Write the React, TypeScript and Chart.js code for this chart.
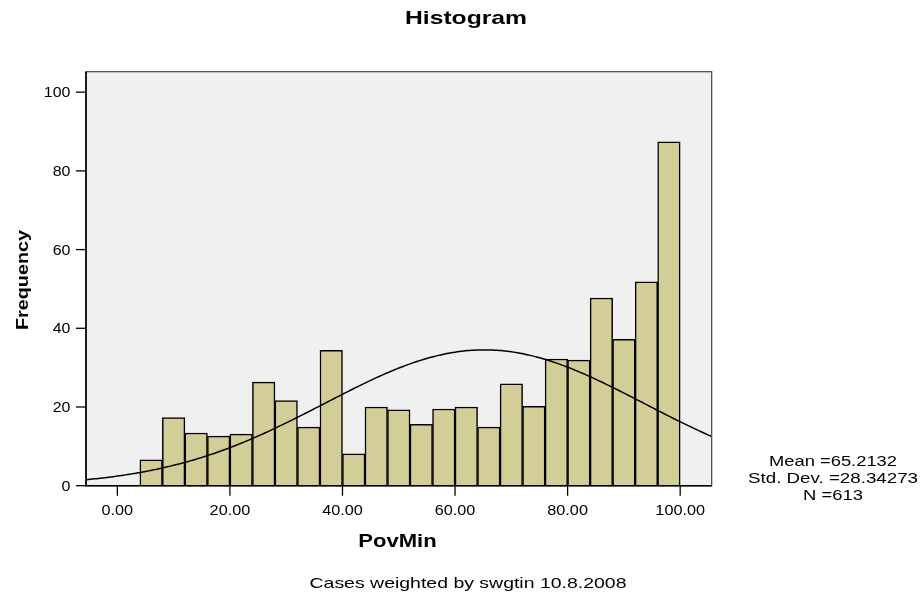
import { useEffect, useRef } from "react";
import { Chart, registerables } from "chart.js";

Chart.register(...registerables);

// Histogram bins (lower edges) and frequencies
const BIN_LOWER_EDGES = [4, 8, 12, 16, 20, 24, 28, 32, 36, 40, 44, 48, 52, 56, 60, 64, 68, 72, 76, 80, 84, 88, 92, 96];
const FREQUENCIES = [6.6, 17.3, 13.4, 12.6, 13.1, 26.3, 21.6, 14.9, 34.4, 8.1, 20.0, 19.3, 15.6, 19.5, 20.0, 14.9, 25.9, 20.2, 32.2, 31.9, 47.7, 37.2, 51.8, 87.4];
const BIN_WIDTH = 4;

const X_TICKS = [0, 20, 40, 60, 80, 100];
const Y_TICKS = [0, 20, 40, 60, 80, 100];
const X_MIN = -5.57;
const X_MAX = 105.6;
const Y_MAX = 105.2;

// Normal curve parameters stated on the chart
const MEAN = 65.2132;
const STD_DEV = 28.34273;
const N = 613;

const STATS_LINES = ["Mean =65.2132", "Std. Dev. =28.34273", "N =613"];
const TITLE = "Histogram";
const X_TITLE = "PovMin";
const Y_TITLE = "Frequency";
const FOOTNOTE = "Cases weighted by swgtin 10.8.2008";

const FONT = "'Liberation Sans', Arial, sans-serif";

function normalCurve() {
  const pts: { x: number; y: number }[] = [];
  const k = (N * BIN_WIDTH) / (STD_DEV * Math.sqrt(2 * Math.PI));
  const steps = 300;
  for (let i = 0; i <= steps; i++) {
    const x = X_MIN + ((X_MAX - X_MIN) * i) / steps;
    const z = (x - MEAN) / STD_DEV;
    pts.push({ x, y: k * Math.exp(-0.5 * z * z) });
  }
  return pts;
}

function drawText(
  ctx: CanvasRenderingContext2D,
  text: string,
  x: number,
  y: number,
  font: string,
  align: CanvasTextAlign,
  opts: { width?: number; scaleX?: number; rotate?: boolean }
) {
  ctx.save();
  ctx.translate(x, y);
  if (opts.rotate) ctx.rotate(-Math.PI / 2);
  ctx.font = font;
  const w = ctx.measureText(text).width;
  const sx = opts.width ? opts.width / w : opts.scaleX ?? 1;
  ctx.scale(sx, 1);
  ctx.textAlign = align;
  ctx.textBaseline = "alphabetic";
  ctx.fillStyle = "#000";
  ctx.fillText(text, 0, 0);
  ctx.restore();
}

const decorPlugin = {
  id: "spssDecor",
  beforeDraw(chart: any) {
    const { ctx, chartArea: a } = chart;
    ctx.save();
    ctx.fillStyle = "#ffffff";
    ctx.fillRect(0, 0, chart.width, chart.height);
    ctx.fillStyle = "#f0f0f0";
    ctx.fillRect(a.left, a.top, a.right - a.left, a.bottom - a.top);
    ctx.restore();
  },
  afterDraw(chart: any) {
    const { ctx, chartArea: a } = chart;
    const xs = chart.scales.x;
    const ys = chart.scales.y;
    ctx.save();
    // frame
    ctx.strokeStyle = "#444";
    ctx.lineWidth = 1.2;
    ctx.strokeRect(a.left, a.top, a.right - a.left, a.bottom - a.top);
    ctx.strokeStyle = "#000";
    ctx.lineWidth = 1.6;
    ctx.beginPath();
    ctx.moveTo(a.left, a.top);
    ctx.lineTo(a.left, a.bottom);
    ctx.lineTo(a.right, a.bottom);
    ctx.stroke();
    // x ticks
    ctx.lineWidth = 1.3;
    X_TICKS.forEach((v) => {
      const px = xs.getPixelForValue(v);
      ctx.beginPath();
      ctx.moveTo(px, a.bottom);
      ctx.lineTo(px, a.bottom + 10);
      ctx.stroke();
      drawText(ctx, v.toFixed(2), px, 515.3, `14px ${FONT}`, "center", { scaleX: 1.16 });
    });
    // y ticks
    Y_TICKS.forEach((v) => {
      const py = ys.getPixelForValue(v);
      ctx.beginPath();
      ctx.moveTo(a.left - 10, py);
      ctx.lineTo(a.left, py);
      ctx.stroke();
      drawText(ctx, String(v), 70.5, py + 5, `14px ${FONT}`, "right", { scaleX: 1.14 });
    });
    ctx.restore();
    // titles
    drawText(ctx, TITLE, 466, 23.5, `bold 19px ${FONT}`, "center", { width: 122 });
    drawText(ctx, X_TITLE, 397.5, 547, `bold 18px ${FONT}`, "center", { width: 78.4 });
    drawText(ctx, Y_TITLE, 28, 280, `bold 17px ${FONT}`, "center", { width: 100, rotate: true });
    drawText(ctx, FOOTNOTE, 468, 588, `15px ${FONT}`, "center", { width: 317 });
    const statW = [128, 170, 60];
    const statY = [466, 483, 500];
    STATS_LINES.forEach((t, i) =>
      drawText(ctx, t, 833, statY[i], `15px ${FONT}`, "center", { width: statW[i] })
    );
  },
};

export default function App() {
  const ref = useRef<HTMLCanvasElement | null>(null);
  useEffect(() => {
    document.body.style.margin = "0";
    const canvas = ref.current;
    if (!canvas) return;
    const barData = BIN_LOWER_EDGES.map((lo, i) => ({ x: lo + BIN_WIDTH / 2, y: FREQUENCIES[i] }));
    const chart = new Chart(canvas, {
      type: "bar",
      data: {
        datasets: [
          {
            type: "line",
            data: normalCurve(),
            borderColor: "#000",
            borderWidth: 1.5,
            pointRadius: 0,
            tension: 0,
            fill: false,
            order: 0,
          } as any,
          {
            type: "bar",
            data: barData,
            backgroundColor: "#d3ce97",
            borderColor: "#000",
            borderWidth: 1.5,
            barPercentage: 1,
            categoryPercentage: 1,
            order: 1,
          } as any,
        ],
      },
      options: {
        animation: false,
        responsive: false,
        maintainAspectRatio: false,
        layout: { padding: { top: 71.7, right: 210.3, left: 0, bottom: 0 } },
        plugins: { legend: { display: false }, tooltip: { enabled: false }, title: { display: false } },
        scales: {
          x: {
            type: "linear",
            min: X_MIN,
            max: X_MAX,
            offset: false,
            grid: { display: false },
            border: { display: false },
            ticks: { display: false },
            afterFit: (s: any) => {
              s.height = 108.3;
            },
          },
          y: {
            type: "linear",
            min: 0,
            max: Y_MAX,
            grid: { display: false },
            border: { display: false },
            ticks: { display: false },
            afterFit: (s: any) => {
              s.width = 86;
            },
          },
        },
      },
      plugins: [decorPlugin],
    });
    return () => chart.destroy();
  }, []);
  return (
    <div style={{ width: 922, height: 594 }}>
      <canvas ref={ref} width={922} height={594} style={{ display: "block" }} />
    </div>
  );
}
